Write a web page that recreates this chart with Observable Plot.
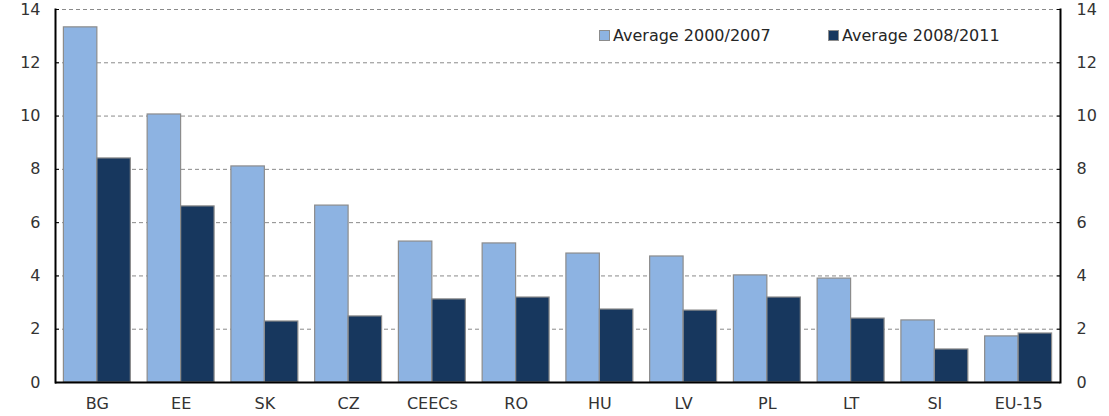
<!DOCTYPE html>
<html><head><meta charset="utf-8">
<script src="https://cdn.jsdelivr.net/npm/d3@7"></script>
<script src="https://cdn.jsdelivr.net/npm/@observablehq/plot@0.6"></script>
<style>
body{margin:0;background:#fff;}
#wrap{position:relative;width:1109px;height:416px;font-family:"DejaVu Sans",Verdana,sans-serif;}
.legend{position:absolute;top:26px;left:599px;font-size:16px;color:#262626;white-space:nowrap;}
.item{position:absolute;top:0;display:flex;align-items:center;}
.sw{width:9px;height:9px;border:1px solid #8c8c8c;margin-right:3px;}
</style>
</head><body>
<div id="wrap"></div>
<script>
const categories = ["BG","EE","SK","CZ","CEECs","RO","HU","LV","PL","LT","SI","EU-15"];
const avg2000_2007 = [13.33,10.06,8.11,6.64,5.29,5.22,4.84,4.73,4.02,3.90,2.33,1.73];
const avg2008_2011 = [8.41,6.61,2.29,2.48,3.12,3.19,2.74,2.70,3.19,2.40,1.24,1.84];
const seriesNames = ["Average 2000/2007","Average 2008/2011"];
const seriesColors = ["#8db3e2","#17375e"];
const yTicks = [0,2,4,6,8,10,12,14];

const rowsA = categories.map((c,i)=>({cat:c, value:avg2000_2007[i], series:seriesNames[0]}));
const rowsB = categories.map((c,i)=>({cat:c, value:avg2008_2011[i], series:seriesNames[1]}));

const chart = Plot.plot({
  width: 1109, height: 416,
  marginLeft: 55, marginRight: 49, marginTop: 9, marginBottom: 34,
  style: {fontFamily: '"DejaVu Sans", Verdana, sans-serif', fontSize: "16px", color: "#333"},
  x: {domain: categories, padding: 0, round: false, label: null},
  y: {domain: [0,14], label: null},
  marks: [
    Plot.gridY(yTicks.filter(d=>d>0), {stroke:"#8a8a8a", strokeOpacity:1, strokeDasharray:"4,3"}),
    Plot.barY(rowsA, {x:"cat", y:"value", fill: seriesColors[0], stroke:"#8c8c8c", strokeWidth:1.2, insetLeft:8.4, insetRight:41.9}),
    Plot.barY(rowsB, {x:"cat", y:"value", fill: seriesColors[1], stroke:"#8c8c8c", strokeWidth:1.2, insetLeft:41.9, insetRight:8.4}),
    Plot.ruleY([0], {stroke:"#000", strokeWidth:2}),
    Plot.frame({anchor:"left", stroke:"#000", strokeWidth:2}),
    Plot.frame({anchor:"right", stroke:"#000", strokeWidth:2}),
    Plot.axisY(yTicks, {anchor:"left", tickSize:-4, tickPadding:19, fontSize:16, fill:"#333", stroke:"#000", label:null}),
    Plot.axisY(yTicks, {anchor:"right", tickSize:-4, tickPadding:20, fontSize:16, fill:"#333", stroke:"#000", label:null}),
    Plot.axisX({tickSize:0, tickPadding:15, fontSize:16, fill:"#333", label:null})
  ]
});
const wrap = document.getElementById("wrap");
wrap.appendChild(chart);

const legend = document.createElement("div");
legend.className = "legend";
const offsets = [0, 229];
seriesNames.forEach((n,i)=>{
  const it = document.createElement("div");
  it.className = "item";
  it.style.left = offsets[i] + "px";
  const sw = document.createElement("span");
  sw.className = "sw";
  sw.style.background = seriesColors[i];
  const t = document.createElement("span");
  t.textContent = n;
  it.appendChild(sw); it.appendChild(t);
  legend.appendChild(it);
});
wrap.appendChild(legend);
</script>
</body></html>
